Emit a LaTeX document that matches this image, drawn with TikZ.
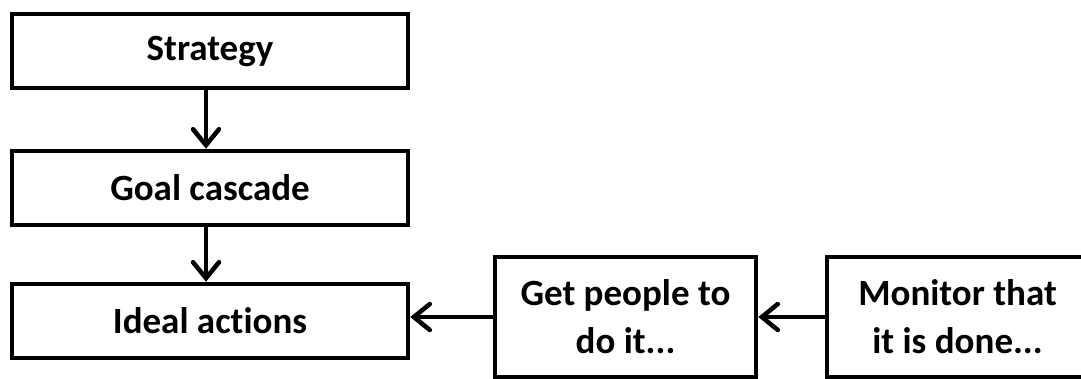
\documentclass[tikz,border=0pt]{standalone}
\usepackage{fontspec}
\setmainfont{Carlito}[Ligatures=NoCommon]
\usepackage{tikz}
\usetikzlibrary{arrows.meta,positioning}

\begin{document}
\begin{tikzpicture}[x=1pt,y=-1pt,
  box/.style={draw,line width=4.5pt,align=center,inner sep=0pt,
    font=\bfseries\fontsize{37}{48}\selectfont},
  wide/.style={box,minimum width=396pt,minimum height=74pt},
  tall/.style={box,minimum width=261pt,minimum height=120pt},
  flow/.style={-{Straight Barb[length=16pt,width=26pt,line cap=round]},line width=4.5pt}]
  \clip (0,0) rectangle (1081,378);
  % left column
  \node[wide] (strategy) at (210,51) {Strategy};
  \node[wide] (goals) at (210,188) {Goal cascade};
  \node[wide] (ideal) at (210,321) {Ideal actions};
  % bottom row
  \node[tall] (people) at (625.5,317) {Get people to\\do it...};
  \node[tall] (monitor) at (957.5,317) {Monitor that\\it is done...};
  \draw[flow] ([xshift=-4pt]strategy.south) -- ([xshift=-4pt]goals.north);
  \draw[flow] ([xshift=-4pt]goals.south) -- ([xshift=-4pt]ideal.north);
  \draw[flow] (people.west) -- (ideal.east |- people.west);
  \draw[flow] (monitor) -- (people);
\end{tikzpicture}
\end{document}
